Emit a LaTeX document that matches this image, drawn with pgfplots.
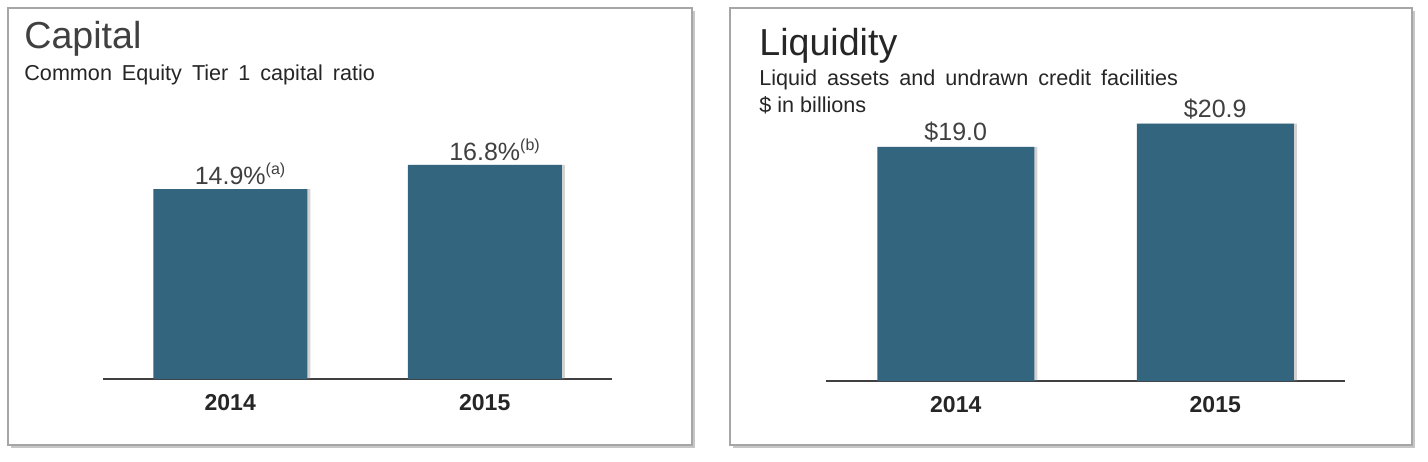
\documentclass[border=0pt]{standalone}
\usepackage{fontspec}
\setmainfont{Liberation Sans}
\usepackage{pgfplots}
\pgfplotsset{compat=1.18}
\usetikzlibrary{shadows}

\definecolor{barblue}{HTML}{33657F}
\definecolor{txtgray}{HTML}{404040}
\definecolor{framegray}{HTML}{A6A6A6}

\pgfplotsset{
  panel/.style={
    ybar, scale only axis, anchor=south west, clip=false,
    ymin=0, xmin=-0.5, xmax=1.5, enlargelimits=false,
    axis x line*=bottom, axis y line=none,
    x axis line style={draw=txtgray, line width=0.6pt, -},
    xtick={0,1}, xticklabels={2014,2015}, major tick length=0pt,
    xticklabel style={font=\fontsize{11.5}{13}\selectfont\bfseries, text=black!85,
      inner sep=0pt, yshift=-7.5pt},
    nodes near coords, point meta=explicit symbolic,
    nodes near coords style={font=\fontsize{12.5}{14}\selectfont, text=txtgray,
      anchor=south, inner sep=2pt},
  },
  barstyle/.style={fill=barblue, draw=none,
    drop shadow={shadow xshift=1.5pt, shadow yshift=0pt, opacity=0.35}},
}

\newcommand{\note}[1]{\rlap{\raisebox{0.75ex}{\fontsize{8}{9}\selectfont(#1)}}}
\newcommand{\subfont}{\fontsize{10.8}{13}\selectfont\spaceskip=5pt plus 1pt}

\begin{document}
\begin{tikzpicture}
  \path[use as bounding box] (0,0) rectangle (714pt,-230.5pt);

  % panel frames
  \draw[framegray, line width=0.75pt, fill=white,
    drop shadow={shadow xshift=1.5pt, shadow yshift=-1.5pt, opacity=0.45}]
    (4pt,-4pt) rectangle (346pt,-222.5pt);
  \draw[framegray, line width=0.75pt, fill=white,
    drop shadow={shadow xshift=1.5pt, shadow yshift=-1.5pt, opacity=0.45}]
    (365pt,-4pt) rectangle (706pt,-222.5pt);

  % titles
  \node[anchor=base west, inner sep=0pt, text=txtgray, font=\fontsize{18.8}{21}\selectfont]
    at (12pt,-24pt) {Capital};
  \node[anchor=base west, inner sep=0pt, text=black!85, font=\subfont]
    at (12pt,-40pt) {Common Equity Tier 1 capital ratio};
  \node[anchor=base west, inner sep=0pt, text=black!85, font=\fontsize{18.8}{21}\selectfont]
    at (379.5pt,-27.5pt) {Liquidity};
  \node[anchor=base west, inner sep=0pt, text=black!85, font=\subfont]
    at (379.5pt,-42.5pt) {Liquid assets and undrawn credit facilities};
  \node[anchor=base west, inner sep=0pt, text=black!85, font=\fontsize{10.8}{13}\selectfont]
    at (379.5pt,-56pt) {\$ in billions};

  % Capital
  \begin{axis}[panel, at={(51.5pt,-189.5pt)}, width=254.5pt, height=127.5pt,
      ymax=20, bar width=77pt]
    \addplot[barstyle] coordinates {
      (0,14.9) [14.9\%\note{a}]
      (1,16.8) [16.8\%\note{b}]
    };
  \end{axis}

  % Liquidity
  \begin{axis}[panel, at={(413pt,-190.5pt)}, width=259.5pt, height=154pt,
      ymax=25, bar width=78.5pt]
    \addplot[barstyle] coordinates {
      (0,19.0) [\$19.0]
      (1,20.9) [\$20.9]
    };
  \end{axis}
\end{tikzpicture}
\end{document}
